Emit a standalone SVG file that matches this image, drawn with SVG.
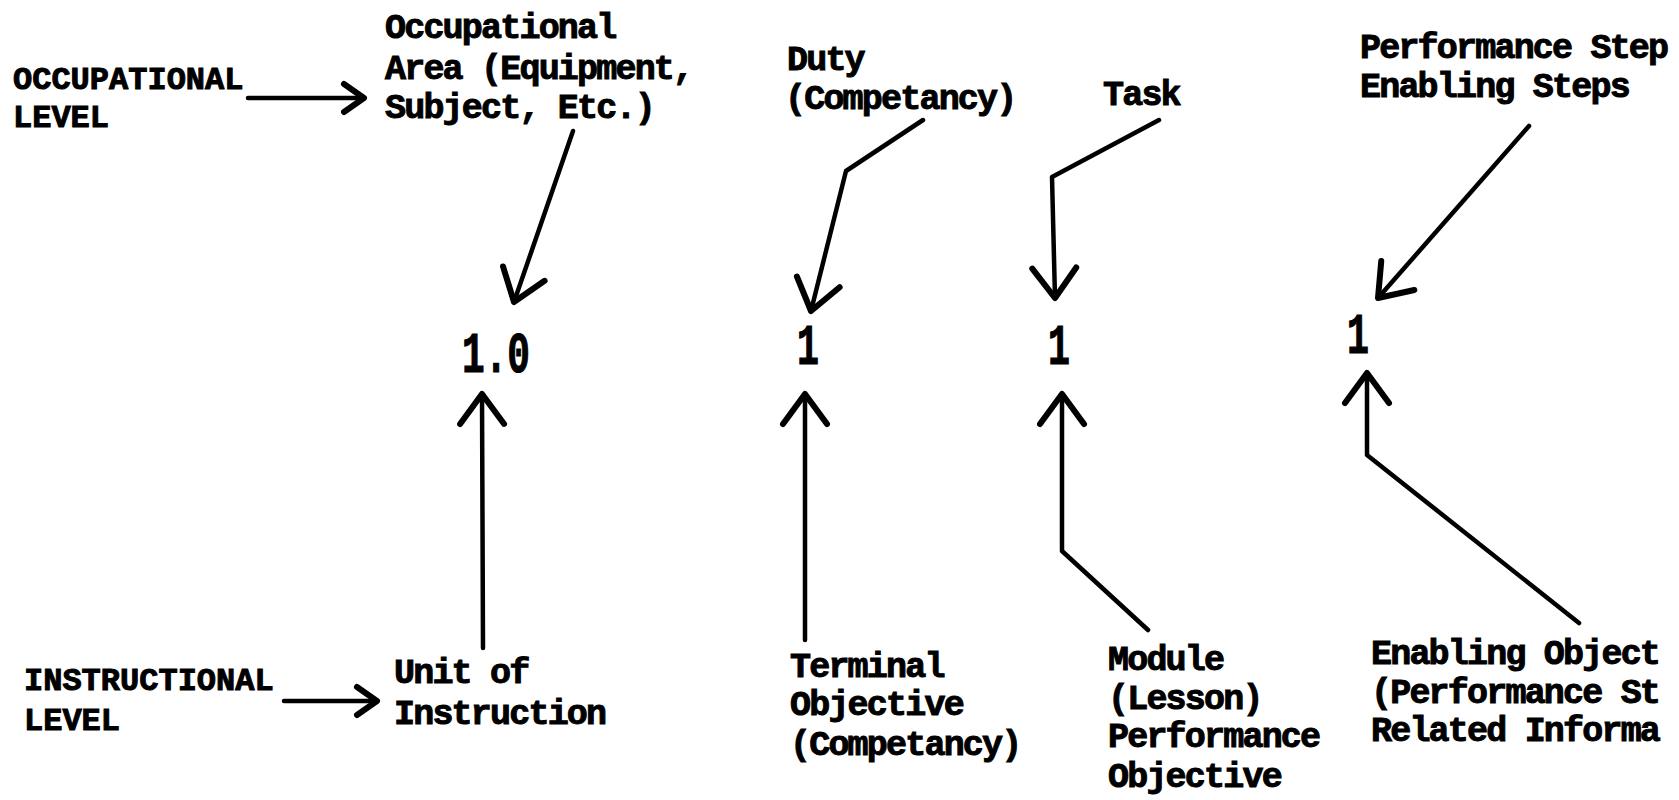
<svg xmlns="http://www.w3.org/2000/svg" width="1679" height="800" viewBox="0 0 1679 800">
<style>
  text { font-family: "Liberation Mono", "DejaVu Sans Mono", monospace; font-weight: bold; font-size: 35px; letter-spacing: -1.8px; fill: #000; stroke: #000; stroke-width: 1px; }
  .lvl { font-size: 32px; letter-spacing: 0; }
  .num { font-size: 58px; letter-spacing: 0; stroke-width: 1.2px; }
  .ln { fill: none; stroke: #000; stroke-width: 4.5; stroke-linecap: round; stroke-linejoin: round; }
</style>
<defs>
  <marker id="ahBig" markerUnits="userSpaceOnUse" viewBox="0 0 40 52" markerWidth="40" markerHeight="52" refX="36" refY="26" orient="auto">
    <path d="M6,4 L36,26 L6,48" fill="none" stroke="#000" stroke-width="6" stroke-linecap="round" stroke-linejoin="round"/>
  </marker>
  <marker id="ahSmall" markerUnits="userSpaceOnUse" viewBox="0 0 30 36" markerWidth="30" markerHeight="36" refX="26" refY="18" orient="auto">
    <path d="M6,4 L26,18 L6,32" fill="none" stroke="#000" stroke-width="6" stroke-linecap="round" stroke-linejoin="round"/>
  </marker>
</defs>
<rect x="0" y="0" width="1679" height="800" fill="#fff"/>

<g id="connectors">
  <path class="ln" d="M248,98 L364,98" marker-end="url(#ahSmall)"/>
  <path class="ln" d="M284,701 L377,701" marker-end="url(#ahSmall)"/>
  <path class="ln" d="M573,131 L514,302" marker-end="url(#ahBig)"/>
  <path class="ln" d="M923,120 L846,171 L811,311" marker-end="url(#ahBig)"/>
  <path class="ln" d="M1159,120 L1052,177 L1055,298" marker-end="url(#ahBig)"/>
  <path class="ln" d="M1529,126 L1378,298" marker-end="url(#ahBig)"/>
  <path class="ln" d="M483,648 L482,394" marker-end="url(#ahBig)"/>
  <path class="ln" d="M805,640 L805,394" marker-end="url(#ahBig)"/>
  <path class="ln" d="M1148,630 L1062,551 L1062,394" marker-end="url(#ahBig)"/>
  <path class="ln" d="M1579,623 L1367,455 L1367,373" marker-end="url(#ahBig)"/>
</g>

<g id="occupational-level">
  <text class="lvl" x="13" y="89">OCCUPATIONAL</text>
  <text class="lvl" x="13" y="127">LEVEL</text>
</g>
<g id="occupational-area">
  <text x="385" y="38">Occupational</text>
  <text x="385" y="79">Area (Equipment,</text>
  <text x="385" y="118">Subject, Etc.)</text>
</g>
<g id="duty">
  <text x="787" y="70">Duty</text>
  <text x="785" y="109">(Competancy)</text>
</g>
<g id="task">
  <text x="1103" y="105">Task</text>
</g>
<g id="performance-steps">
  <text x="1360" y="58">Performance Step</text>
  <text x="1360" y="97">Enabling Steps</text>
</g>

<g id="num-unit"><text class="num" x="462" y="372" textLength="68" lengthAdjust="spacingAndGlyphs">1.0</text></g>
<g id="num-terminal"><text class="num" x="797" y="364" textLength="22" lengthAdjust="spacingAndGlyphs">1</text></g>
<g id="num-module"><text class="num" x="1048" y="364" textLength="22" lengthAdjust="spacingAndGlyphs">1</text></g>
<g id="num-enabling"><text class="num" x="1347" y="353" textLength="22" lengthAdjust="spacingAndGlyphs">1</text></g>

<g id="instructional-level">
  <text class="lvl" x="24" y="690">INSTRUCTIONAL</text>
  <text class="lvl" x="24" y="730">LEVEL</text>
</g>
<g id="unit-of-instruction">
  <text x="394" y="683">Unit of</text>
  <text x="394" y="724">Instruction</text>
</g>
<g id="terminal-objective">
  <text x="790" y="677">Terminal</text>
  <text x="790" y="715">Objective</text>
  <text x="790" y="755">(Competancy)</text>
</g>
<g id="module">
  <text x="1108" y="670">Module</text>
  <text x="1108" y="709">(Lesson)</text>
  <text x="1108" y="747">Performance</text>
  <text x="1108" y="787">Objective</text>
</g>
<g id="enabling-objective">
  <text x="1371" y="664">Enabling Object</text>
  <text x="1371" y="703">(Performance St</text>
  <text x="1371" y="741">Related Informa</text>
</g>
</svg>
